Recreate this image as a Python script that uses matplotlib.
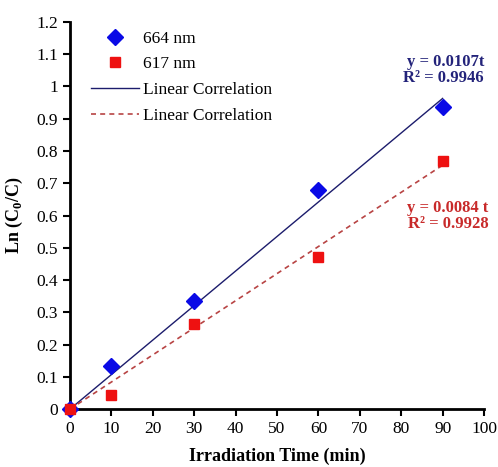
import numpy as np
import matplotlib
matplotlib.use("Agg")
import matplotlib.pyplot as plt

plt.rcParams['font.family'] = ['Liberation Serif', 'DejaVu Serif']
plt.rcParams['mathtext.fontset'] = 'custom'
plt.rcParams['mathtext.rm'] = 'Liberation Serif'
plt.rcParams['mathtext.bf'] = 'Liberation Serif:bold'

# Irradiation times (min) and ln(C0/C) for the two wavelengths
time_min = [0, 10, 30, 60, 90]
ln_664 = [0.0, 0.135, 0.335, 0.68, 0.935]
ln_617 = [0.0, 0.045, 0.265, 0.47, 0.77]

# Fitted slopes (through origin) and R^2
slope_664, r2_664 = 0.0107, 0.9946
slope_617, r2_617 = 0.0084, 0.9928

x_ticks = list(range(0, 101, 10))
y_ticks = [round(0.1 * i, 1) for i in range(13)]
y_tick_labels = ['0', '0.1', '0.2', '0.3', '0.4', '0.5', '0.6', '0.7', '0.8',
                 '0.9', '1', '1.1', '1.2']

fig = plt.figure(figsize=(4.98, 4.67), dpi=100)
ax = fig.add_axes([0.1406, 0.124, 0.8314, 0.829])

blue_marker = '#0a0ae6'
red_marker = '#ee1111'
blue_line = '#1c1c6c'
red_line = '#b84444'

t_fit = np.array([0, 90])
ax.plot(time_min, ln_664, linestyle='none', marker='D', markersize=8,
        color=blue_marker, label='664 nm', zorder=3)
ax.plot(time_min, ln_617, linestyle='none', marker='s', markersize=7.5,
        color=red_marker, label='617 nm', zorder=3)
ax.plot(t_fit, slope_664 * t_fit, color=blue_line, linewidth=1.0,
        label='Linear Correlation', zorder=2)
ax.plot(t_fit, slope_617 * t_fit, color=red_line, linewidth=1.2,
        linestyle=(0, (3, 2.5)), label='Linear Correlation', zorder=2)

ax.text(100, 1.10, f'y = {slope_664}t\nR² = {r2_664}', color='#23237a',
        fontsize=12, fontweight='bold', ha='right', va='top', linespacing=1.0)
ax.text(101, 0.648, f'y = {slope_617} t\nR² = {r2_617}', color='#c82a2a',
        fontsize=12, fontweight='bold', ha='right', va='top', linespacing=1.0)

ax.set_xlim(0, 100)
ax.set_ylim(0, 1.2)
ax.set_xticks(x_ticks)
ax.set_yticks(y_ticks)
ax.set_yticklabels(y_tick_labels)
ax.tick_params(direction='out', length=5, width=1.5, labelsize=12.5,
               colors='black')
for side in ['top', 'right']:
    ax.spines[side].set_visible(False)
for side in ['left', 'bottom']:
    ax.spines[side].set_linewidth(2)
for artist in ax.lines:
    artist.set_clip_on(False)

ax.set_xlabel('Irradiation Time (min)', fontsize=13, fontweight='bold',
              labelpad=8)
ax.set_ylabel(r'Ln (C$_\mathbf{0}$/C)', fontsize=13, fontweight='bold',
              labelpad=8)

leg = ax.legend(loc='upper left', bbox_to_anchor=(0.025, 1.005), frameon=False,
                fontsize=12.5, handlelength=2.8, handletextpad=0.2,
                labelspacing=0.55, borderaxespad=0.2)

fig.savefig('out.png', dpi=100)
